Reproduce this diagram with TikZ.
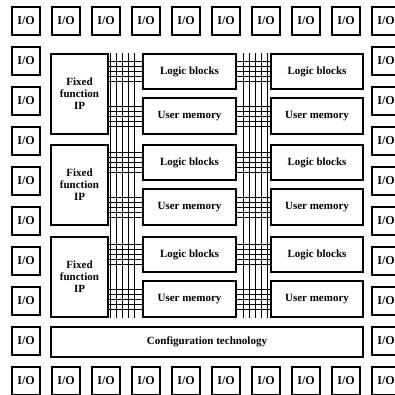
\documentclass[tikz,border=0pt]{standalone}
\usepackage{fontspec}
\setmainfont{Liberation Serif}
\usetikzlibrary{calc}
\begin{document}
\begin{tikzpicture}[x=1pt,y=-1pt,
  every node/.style={font=\fontsize{11}{12}\selectfont\bfseries, inner sep=0pt},
  iobox/.style={draw, line width=1.1pt, minimum width=28pt, minimum height=28pt, font=\fontsize{12}{13}\selectfont\bfseries},
  blk/.style={draw, line width=1.1pt, align=center},
  gridline/.style={line width=0.6pt}]
\useasboundingbox (0,0) rectangle (395,394);
\clip (0,0) rectangle (395,394);
% I/O ring
\foreach \i in {0,...,9}{
  \node[iobox] (top\i) at (26+40*\i,21) {I/O};
  \node[iobox] (bot\i) at (26+40*\i,381) {I/O};
}
\foreach \j in {1,...,8}{
  \node[iobox] (left\j) at (26,21+40*\j) {I/O};
  \node[iobox] (right\j) at (386,21+40*\j) {I/O};
}
% Fixed function IP
\node[blk, minimum width=57pt, minimum height=80pt] (F1) at (79.5,94) {Fixed\\function\\IP};
\node[blk, minimum width=57pt, minimum height=80pt] (F2) at (79.5,185) {Fixed\\function\\IP};
\node[blk, minimum width=57pt, minimum height=80pt] (F3) at (79.5,277) {Fixed\\function\\IP};
% Logic blocks / user memory
\foreach \r/\ly/\my in {1/71.5/116, 2/162.5/207, 3/254.5/299}{
  \node[blk, minimum width=93pt, minimum height=35pt] (La\r) at (189.5,\ly) {Logic blocks};
  \node[blk, minimum width=93pt, minimum height=36pt] (Ma\r) at (189.5,\my) {User memory};
  \node[blk, minimum width=92pt, minimum height=35pt] (Lb\r) at (317,\ly) {Logic blocks};
  \node[blk, minimum width=92pt, minimum height=36pt] (Mb\r) at (317,\my) {User memory};
}
% Configuration technology
\node[blk, minimum width=312pt, minimum height=30pt] (C) at (207,342) {Configuration technology};
% routing grids: vertical tracks
\foreach \o in {2,8,14,20,26}{
  \draw[gridline] ($(F1.east |- La1.north)+(\o,0)$) -- ($(F1.east |- Ma3.south)+(\o,0)$);
}
\foreach \o in {7,13,19,25,31}{
  \draw[gridline] ($(La1.north east)+(\o,0)$) -- ($(Ma3.south east)+(\o,0)$);
}
% routing grids: horizontal tracks
\foreach \b in {La1,Ma1,La2,Ma2,La3,Ma3}{
  \foreach \d in {-10,-5,0,5,10}{
    \draw[gridline] ([yshift=\d pt]\b.west) -- ([yshift=\d pt]\b.west -| F1.east);
  }
}
\foreach \b/\c in {La1/Lb1,Ma1/Mb1,La2/Lb2,Ma2/Mb2,La3/Lb3,Ma3/Mb3}{
  \foreach \d in {-10,-5,0,5,10}{
    \draw[gridline] ([yshift=\d pt]\b.east) -- ([yshift=\d pt]\c.west);
  }
}
\end{tikzpicture}
\end{document}
